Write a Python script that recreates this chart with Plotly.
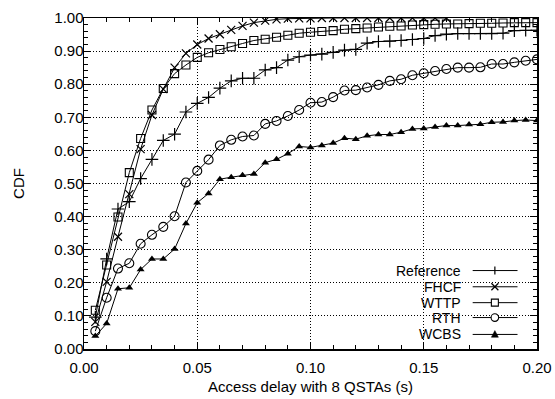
import plotly.graph_objects as go

delay = [0.005, 0.010, 0.015, 0.020, 0.025, 0.030, 0.035, 0.040, 0.045, 0.050,
         0.055, 0.060, 0.065, 0.070, 0.075, 0.080, 0.085, 0.090, 0.095, 0.100,
         0.105, 0.110, 0.115, 0.120, 0.125, 0.130, 0.135, 0.140, 0.145, 0.150,
         0.155, 0.160, 0.165, 0.170, 0.175, 0.180, 0.185, 0.190, 0.195, 0.200]

reference = [0.096, 0.272, 0.423, 0.445, 0.515, 0.573, 0.630, 0.649, 0.716, 0.742,
             0.760, 0.788, 0.810, 0.818, 0.818, 0.843, 0.850, 0.873, 0.883, 0.888,
             0.891, 0.896, 0.903, 0.905, 0.924, 0.929, 0.930, 0.932, 0.935, 0.938,
             0.947, 0.951, 0.953, 0.953, 0.953, 0.953, 0.954, 0.962, 0.963, 0.963]

fhcf = [0.082, 0.203, 0.339, 0.468, 0.604, 0.707, 0.785, 0.850, 0.893, 0.920,
        0.938, 0.951, 0.964, 0.976, 0.986, 0.992, 0.996, 0.998, 0.999, 0.999,
        1.000, 1.000, 1.000, 1.000, 1.000, 1.000, 1.000, 1.000, 1.000, 1.000,
        1.000, 1.000]

wttp = [0.117, 0.254, 0.399, 0.533, 0.636, 0.722, 0.787, 0.832, 0.858, 0.881,
        0.895, 0.905, 0.913, 0.923, 0.932, 0.936, 0.942, 0.948, 0.954, 0.957,
        0.959, 0.962, 0.966, 0.968, 0.970, 0.973, 0.975, 0.976, 0.979, 0.980,
        0.981, 0.982, 0.982, 0.983, 0.984, 0.984, 0.985, 0.986, 0.986, 0.986]

rth = [0.054, 0.155, 0.243, 0.259, 0.318, 0.345, 0.369, 0.401, 0.503, 0.538,
       0.572, 0.615, 0.632, 0.642, 0.645, 0.680, 0.689, 0.704, 0.722, 0.744,
       0.746, 0.761, 0.781, 0.782, 0.790, 0.798, 0.810, 0.815, 0.827, 0.833,
       0.840, 0.846, 0.850, 0.850, 0.851, 0.861, 0.861, 0.866, 0.871, 0.875]

wcbs = [0.039, 0.077, 0.182, 0.185, 0.240, 0.272, 0.272, 0.302, 0.379, 0.442,
        0.470, 0.513, 0.519, 0.525, 0.529, 0.563, 0.573, 0.590, 0.612, 0.609,
        0.615, 0.622, 0.637, 0.634, 0.644, 0.648, 0.648, 0.655, 0.665, 0.666,
        0.671, 0.675, 0.675, 0.678, 0.679, 0.685, 0.686, 0.690, 0.692, 0.690]

series_names = ["Reference", "FHCF", "WTTP", "RTH", "WCBS"]
x_ticks = [0.00, 0.05, 0.10, 0.15, 0.20]
y_ticks = [0.0, 0.1, 0.2, 0.3, 0.4, 0.5, 0.6, 0.7, 0.8, 0.9, 1.0]

FONT = "Liberation Sans, Arial, Helvetica, sans-serif"
W, H = 555, 399
ML, MR, MT, MB = 84, 18, 18, 50
PW, PH = W - ML - MR, H - MT - MB

styles = [
    dict(symbol="cross-thin", size=9, color="black", line=dict(width=1.2, color="black")),
    dict(symbol="x-thin", size=8, color="black", line=dict(width=1.2, color="black")),
    dict(symbol="square-open", size=8, color="black", line=dict(width=1.1, color="black")),
    dict(symbol="circle-open", size=9, color="black", line=dict(width=1.1, color="black")),
    dict(symbol="triangle-up", size=7, color="black", line=dict(width=0, color="black")),
]
data = [reference, fhcf, wttp, rth, wcbs]

fig = go.Figure()
for name, ys, st in zip(series_names, data, styles):
    fig.add_trace(go.Scatter(
        x=delay[:len(ys)], y=ys, name=name, mode="lines+markers",
        line=dict(color="black", width=1), marker=st, showlegend=False,
    ))

# manual legend (text left of sample, as in the reference)
def px_x(p):
    return p / PW

def px_y(p):
    return p / PH

shapes = [dict(type="rect", xref="paper", yref="paper", x0=0.649, x1=1.0, y0=0.0, y1=0.263,
               fillcolor="white", line=dict(width=0), layer="between")]
annotations = []
rows = [0.237, 0.188, 0.140, 0.095, 0.044]
tx, lx0, lx1, mx = 0.834, 0.858, 0.957, 0.907
for i, (name, ry) in enumerate(zip(series_names, rows)):
    annotations.append(dict(x=tx, y=ry, xref="paper", yref="paper", text=name, showarrow=False,
                            xanchor="right", yanchor="middle", align="right", borderpad=0,
                            font=dict(family=FONT, size=14, color="black")))
    shapes.append(dict(type="line", xref="paper", yref="paper", x0=lx0, x1=lx1, y0=ry, y1=ry,
                       line=dict(color="black", width=1), layer="above"))
    if i == 0:
        hx, hy = px_x(4), px_y(4)
        shapes.append(dict(type="line", xref="paper", yref="paper", x0=mx, x1=mx, y0=ry - hy, y1=ry + hy,
                           line=dict(color="black", width=1.2), layer="above"))
    elif i == 1:
        hx, hy = px_x(3.5), px_y(3.5)
        shapes.append(dict(type="line", xref="paper", yref="paper", x0=mx - hx, x1=mx + hx, y0=ry - hy, y1=ry + hy,
                           line=dict(color="black", width=1.2), layer="above"))
        shapes.append(dict(type="line", xref="paper", yref="paper", x0=mx - hx, x1=mx + hx, y0=ry + hy, y1=ry - hy,
                           line=dict(color="black", width=1.2), layer="above"))
    elif i == 2:
        hx, hy = px_x(3.5), px_y(3.5)
        shapes.append(dict(type="rect", xref="paper", yref="paper", x0=mx - hx, x1=mx + hx, y0=ry - hy, y1=ry + hy,
                           fillcolor="white", line=dict(color="black", width=1.1), layer="above"))
    elif i == 3:
        hx, hy = px_x(3.8), px_y(3.8)
        shapes.append(dict(type="circle", xref="paper", yref="paper", x0=mx - hx, x1=mx + hx, y0=ry - hy, y1=ry + hy,
                           fillcolor="white", line=dict(color="black", width=1.1), layer="above"))
    else:
        hx, hy = px_x(3.5), px_y(3.5)
        path = "M {:.5f},{:.5f} L {:.5f},{:.5f} L {:.5f},{:.5f} Z".format(
            mx - hx, ry - hy * 0.8, mx + hx, ry - hy * 0.8, mx, ry + hy * 1.1)
        shapes.append(dict(type="path", xref="paper", yref="paper", path=path,
                           fillcolor="black", line=dict(color="black", width=0.5), layer="above"))

axis_common = dict(
    showline=True, linecolor="black", linewidth=1.5, mirror="allticks",
    ticks="inside", ticklen=7, tickwidth=1, tickcolor="black",
    showgrid=True, gridcolor="black", gridwidth=1, griddash="1px,2px",
    zeroline=False, tickfont=dict(family=FONT, size=15, color="black"),
    automargin=False,
)

fig.update_layout(
    width=W, height=H,
    margin=dict(l=ML, r=MR, t=MT, b=MB),
    paper_bgcolor="white", plot_bgcolor="white",
    font=dict(family=FONT, size=15, color="black"),
    showlegend=False,
    shapes=shapes, annotations=annotations,
    xaxis=dict(range=[0, 0.2], tickvals=x_ticks, ticktext=["%.2f" % v for v in x_ticks],
               minor=dict(dtick=0.01, ticklen=4, ticks="inside", tickcolor="black", showgrid=False),
               ticklabelstandoff=4,
               title=dict(text="Access delay with 8 QSTAs (s)", standoff=7,
                          font=dict(family=FONT, size=15, color="black")),
               **axis_common),
    yaxis=dict(range=[0, 1.0], tickvals=y_ticks, ticktext=["%.2f" % v for v in y_ticks],
               minor=dict(dtick=0.02, ticklen=4, ticks="inside", tickcolor="black", showgrid=False),
               ticklabelstandoff=-4,
               title=dict(text="CDF", standoff=26,
                          font=dict(family=FONT, size=15, color="black")),
               **axis_common),
)

fig.write_html("out.html", config={"displayModeBar": False, "staticPlot": True},
               post_script="document.body.style.margin='0';document.body.style.overflow='hidden';")
